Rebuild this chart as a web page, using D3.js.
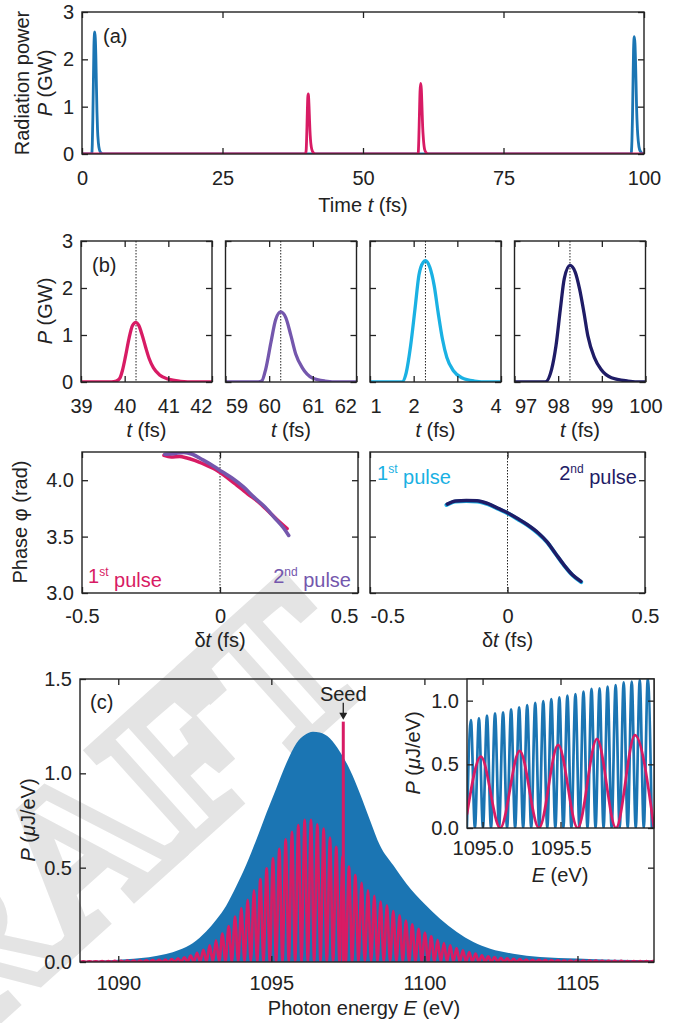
<!DOCTYPE html>
<html><head><meta charset="utf-8">
<script src="https://cdn.jsdelivr.net/npm/d3@7"></script>
<style>
body{margin:0;background:#fff;}
svg text{font-family:"Liberation Sans",Arial,Helvetica,sans-serif;fill:#222;}
</style></head><body>
<svg id="c" width="678" height="1023"></svg>
<script>
// ---------------- DATA ----------------
// Temporal pulses (t in fs, P in GW)
const pinkT   = [39.70,39.81,39.89,39.95,40.02,40.10,40.18,40.26,40.32,40.40,40.48,40.56,40.66,40.80,41.00,41.28,41.60];
const pinkP   = [0,0.02,0.08,0.25,0.55,0.93,1.20,1.27,1.21,1.00,0.74,0.50,0.30,0.15,0.06,0.015,0];
const purpleT = [59.75,59.83,59.92,60.04,60.15,60.265,60.38,60.50,60.61,60.76,60.98,61.28,61.60];
const purpleP = [0,0.02,0.27,0.84,1.33,1.49,1.37,0.98,0.59,0.30,0.09,0.02,0];
const cyanT   = [1.73,1.83,1.93,2.03,2.12,2.22,2.27,2.37,2.47,2.56,2.66,2.76,2.91,3.10,3.39,3.70];
const cyanP   = [0,0.20,0.77,1.55,2.27,2.55,2.58,2.44,2.05,1.48,0.91,0.52,0.24,0.09,0.02,0];
const navyT   = [97.70,97.85,97.95,98.05,98.14,98.27,98.39,98.49,98.59,98.68,98.83,98.98,99.22,99.60,99.90];
const navyP   = [0,0.27,0.77,1.55,2.20,2.48,2.34,1.98,1.48,0.98,0.52,0.27,0.09,0.02,0];
const peakT   = [40.26,60.265,2.27,98.27];
const subDomains = [[39,42],[59,62],[1,4],[97,100]];
const subTicks   = [[39,40,41,42],[59,60,61,62],[1,2,3,4],[97,98,99,100]];
const timeTicksA = [0,25,50,75,100];
const powerTicks = [0,1,2,3];

// Phase (dt in fs, phi in rad)
const phPinkT   = [-0.203,-0.177,-0.146,-0.123,-0.092,-0.054,-0.015,0.015,0.054,0.077,0.100,0.138,0.177,0.215,0.243];
const phPinkV   = [4.22,4.206,4.21,4.20,4.176,4.138,4.094,4.044,3.97,3.926,3.88,3.81,3.72,3.63,3.57];
const phPurpleT = [-0.200,-0.169,-0.131,-0.100,-0.062,-0.023,0.008,0.046,0.085,0.123,0.162,0.200,0.231,0.249];
const phPurpleV = [4.23,4.235,4.247,4.23,4.18,4.124,4.074,4.015,3.94,3.85,3.765,3.66,3.574,3.51];
const phCyanT   = [-0.222,-0.190,-0.150,-0.110,-0.072,-0.033,0.001,0.036,0.075,0.114,0.144,0.175,0.206,0.237,0.268];
const phCyanV   = [3.78,3.81,3.815,3.812,3.788,3.745,3.706,3.656,3.597,3.522,3.45,3.347,3.244,3.156,3.097];
const phNavyT   = [-0.219,-0.188,-0.150,-0.111,-0.073,-0.034,0.000,0.035,0.074,0.113,0.143,0.174,0.205,0.236,0.267];
const phNavyV   = [3.788,3.815,3.82,3.818,3.794,3.75,3.712,3.662,3.603,3.53,3.456,3.353,3.25,3.162,3.103];
const phaseTicksX = [-0.5,0,0.5];
const phaseTicksY = [3.0,3.5,4.0];

// Spectrum (E in eV, P in uJ/eV)
const blueEnvE = [1088.75,1089.5,1090,1090.5,1091,1091.56,1092,1092.43,1092.87,1093.2,1093.53,1093.85,1094.18,1094.51,1094.84,1095.16,1095.49,1095.82,1096.09,1096.36,1096.58,1096.91,1097.24,1097.57,1097.89,1098.22,1098.55,1098.99,1099.42,1100,1100.51,1101.06,1101.6,1102.15,1102.9,1103.78,1104.98,1106.18,1107.5];
const blueEnvP = [0.005,0.008,0.012,0.017,0.025,0.042,0.065,0.10,0.162,0.224,0.30,0.40,0.515,0.648,0.79,0.92,1.053,1.16,1.203,1.221,1.216,1.186,1.115,1.018,0.895,0.753,0.617,0.511,0.414,0.309,0.229,0.159,0.106,0.0705,0.044,0.026,0.018,0.012,0.009];
// pink fringe peaks: first peak energy, fringe spacing, peak heights
const pinkFringeE0 = 1088.85;
const pinkFringeDE = 0.2068;
const pinkFringeP = [0.004,0.004,0.004,0.005,0.005,0.006,0.006,0.007,0.007,0.008,0.009,0.010,0.011,0.013,0.016,0.020,
  0.025,0.034,0.048,0.065,0.088,0.115,0.15,0.19,0.24,0.285,0.33,0.38,0.44,0.497,0.55,0.60,0.65,0.69,0.725,
  0.753,0.753,0.73,0.707,0.66,0.61,0.56,
  0.506,0.46,0.42,0.38,0.35,0.32,0.30,0.27,0.247,0.22,0.20,0.176,0.155,
  0.136,0.118,0.10,0.088,0.074,0.062,0.053,0.044,0.035,0.030,0.026,0.022,0.019,0.017,0.015,0.013,0.012,0.011,0.010,0.009,
  0.009,0.008,0.008,0.008,0.007,0.007,0.007,0.006,0.006,0.006,0.006,0.005,0.005,0.005,0.005,0.005];
const seedE = 1097.35, seedP = 1.274;
const specTicksX = [1090,1095,1100,1105];
const specTicksY = [0,0.5,1.0,1.5];
// inset
const insetBlueE0 = 1094.925, insetBlueDE = 0.0516;
const insetBlueP = [0.848,0.861,0.882,0.90,0.908,0.932,0.948,0.966,0.982,0.997,1.013,1.026,1.039,1.052,1.071,1.092,1.097,1.110,1.123,1.144,1.15,1.163,1.176];
const insetPinkE = [1094.9,1094.989,1095.113,1095.238,1095.362,1095.485,1095.61,1095.734,1095.856,1095.978,1096.1];
const insetPinkP = [0.11,0.56,0,0.606,0,0.653,0,0.70,0,0.73,0];
const insetTicksX = [1095.0,1095.5];
const insetTicksY = [0,0.5,1.0];

// ---------------- COLORS ----------------
const C = {blue:"#1b75b3", pink:"#d81b64", purple:"#7457ad", cyan:"#1ab1e3", navy:"#1f1c66", ink:"#222"};
const FS = 20;

const svg = d3.select("#c");

// watermark
svg.append("text").text("DRAFT")
  .attr("transform","translate(-150,1150) rotate(-42)")
  .style("font-family","'Liberation Serif',serif").style("font-weight","bold").style("font-size","205px")
  .style("fill","none").attr("stroke","#e4e4e4").attr("stroke-width",14).attr("stroke-linejoin","miter");

let clipN = 0;
function panel(o){
  const g = svg.append("g");
  const x = d3.scaleLinear().domain(o.xd).range([o.x0, o.x0 + o.w]);
  const y = d3.scaleLinear().domain(o.yd).range([o.y0 + o.h, o.y0]);
  const id = "clip" + (clipN++);
  svg.append("defs").append("clipPath").attr("id", id).append("rect")
    .attr("x", o.x0).attr("y", o.y0).attr("width", o.w).attr("height", o.h);
  if (o.bg) g.append("rect").attr("x", o.x0).attr("y", o.y0).attr("width", o.w).attr("height", o.h).attr("fill", "#fff");
  const plot = g.append("g").attr("clip-path", `url(#${id})`);
  const ax = g.append("g");
  const ts = 6;
  const bx = ax.append("g").attr("transform", `translate(0,${o.y0 + o.h})`)
    .call(d3.axisBottom(x).tickValues(o.xt).tickFormat(o.xfmt || (d => d)).tickSizeInner(-ts).tickSizeOuter(0).tickPadding(o.xpad || 16));
  ax.append("g").attr("transform", `translate(0,${o.y0})`)
    .call(d3.axisTop(x).tickValues(o.xt).tickFormat("").tickSizeInner(-ts).tickSizeOuter(0));
  const ly = ax.append("g").attr("transform", `translate(${o.x0},0)`)
    .call(d3.axisLeft(y).tickValues(o.yt).tickFormat(o.yfmt || (d => d)).tickSizeInner(-ts).tickSizeOuter(0).tickPadding(8));
  ax.append("g").attr("transform", `translate(${o.x0 + o.w},0)`)
    .call(d3.axisRight(y).tickValues(o.yt).tickFormat("").tickSizeInner(-ts).tickSizeOuter(0));
  if (o.noYLabels) ly.selectAll("text").remove();
  ax.selectAll(".domain").remove();
  ax.selectAll(".tick line").attr("stroke", C.ink).attr("stroke-width", 1.3);
  ax.selectAll("text").style("font-size", FS + "px").attr("fill", C.ink);
  if (o.xAnchor) bx.selectAll(".tick text").attr("text-anchor", (d, i) => o.xAnchor(d, i));
  ax.append("rect").attr("x", o.x0).attr("y", o.y0).attr("width", o.w).attr("height", o.h)
    .attr("fill", "none").attr("stroke", C.ink).attr("stroke-width", 1.4);
  return {x, y, plot, g};
}
function line(p, pts, color, w, curve){
  p.plot.append("path").datum(pts)
    .attr("d", d3.line().x(d => p.x(d[0])).y(d => p.y(d[1])).curve(curve || d3.curveMonotoneX))
    .attr("fill", "none").attr("stroke", color).attr("stroke-width", w)
    .attr("stroke-linejoin", "round").attr("stroke-linecap", "round");
}
function zip(a, b){ return a.map((v, i) => [v, b[i]]); }
function label(txt, x, y, opts = {}){
  const t = svg.append("text").attr("x", x).attr("y", y).style("font-size", (opts.fs || FS) + "px")
    .attr("text-anchor", opts.anchor || "middle").attr("dy", "0.35em");
  if (opts.rot) t.attr("transform", `rotate(-90,${x},${y})`);
  if (opts.fill) t.style("fill", opts.fill);
  (Array.isArray(txt) ? txt : [[txt]]).forEach(s => {
    const sp = t.append("tspan").text(s[0]);
    if (s[1] === "i") sp.style("font-style", "italic");
    if (s[1] === "sup") sp.style("font-size", "12px").attr("dy", "-0.55em");
    if (s[1] === "after") sp.attr("dy", "0.55em");
  });
  return t;
}

// ---------------- PANEL (a) ----------------
const pa = panel({x0:82, y0:12, w:562, h:142, xd:[0,100], yd:[0,3], xt:timeTicksA, yt:powerTicks, xpad:17});
const blueA = [[0,0]].concat(zip(cyanT, cyanP), zip(navyT, navyP), [[100,0]]);
const pinkA = [[0,0]].concat(zip(pinkT, pinkP), zip(purpleT, purpleP), [[100,0]]);
line(pa, blueA, C.blue, 2.8);
line(pa, pinkA, C.pink, 2.8);
label("(a)", 103, 36, {anchor:"start"});
label("Radiation power", 22, 83, {rot:true});
label([["P","i"],[" (GW)"]], 45, 83, {rot:true});
label([["Time "],["t","i"],[" (fs)"]], 363, 205);

// ---------------- PANEL (b) ----------------
const subLeft = [81, 225.5, 370, 514.5];
const subData = [[pinkT,pinkP,C.pink],[purpleT,purpleP,C.purple],[cyanT,cyanP,C.cyan],[navyT,navyP,C.navy]];
subLeft.forEach((x0, k) => {
  const p = panel({x0, y0:241, w:131, h:141, xd:subDomains[k], yd:[0,3], xt:subTicks[k], yt:powerTicks,
    noYLabels: k > 0, xpad:17,
    xAnchor: (d, i) => {
      if (i === 0 && k > 0) return "start";
      if (i === subTicks[k].length - 1 && k < 3) return "end";
      return "middle";
    }});
  p.plot.append("line").attr("x1", p.x(peakT[k])).attr("x2", p.x(peakT[k]))
    .attr("y1", p.y(3)).attr("y2", p.y(0)).attr("stroke", C.ink).attr("stroke-width", 1)
    .attr("stroke-dasharray", "1.5,1.5");
  const d = subData[k];
  const pts = [[subDomains[k][0], 0]].concat(zip(d[0], d[1]), [[subDomains[k][1], 0]]);
  line(p, pts, d[2], 3.3);
  label([["t","i"],[" (fs)"]], x0 + 65.5, 430);
});
label("(b)", 92, 265, {anchor:"start"});
label([["P","i"],[" (GW)"]], 45, 311, {rot:true});

// ---------------- PHASE PANELS ----------------
const phFmt = d => d === 0 ? "0" : String(d);
const phL = panel({x0:82, y0:452, w:276, h:141, xd:[-0.5,0.5], yd:[3.0,4.25], xt:phaseTicksX, yt:phaseTicksY,
  xfmt: phFmt, yfmt: d3.format(".1f"), xpad:16, xAnchor:(d,i)=> i===2 ? "end" : "middle"});
const phR = panel({x0:370, y0:452, w:275, h:141, xd:[-0.5,0.5], yd:[3.0,4.25], xt:phaseTicksX, yt:phaseTicksY,
  xfmt: phFmt, noYLabels:true, xpad:16, xAnchor:(d,i)=> i===0 ? "start" : "middle"});
[phL, phR].forEach(p => {
  p.plot.append("line").attr("x1", p.x(0)).attr("x2", p.x(0)).attr("y1", p.y(4.25)).attr("y2", p.y(3.0))
    .attr("stroke", C.ink).attr("stroke-width", 1).attr("stroke-dasharray", "1.5,1.5");
});
line(phL, zip(phPinkT, phPinkV), C.pink, 3.6);
line(phL, zip(phPurpleT, phPurpleV), C.purple, 3.6);
line(phR, zip(phCyanT, phCyanV), C.cyan, 4.0);
line(phR, zip(phNavyT, phNavyV), C.navy, 3.5);
label("Phase \u03C6 (rad)", 20, 522, {rot:true});
label([["\u03B4"],["t","i"],[" (fs)"]], 220, 640);
label([["\u03B4"],["t","i"],[" (fs)"]], 507.5, 640);
label([["1"],["st","sup"],[" pulse","after"]], 88, 576, {anchor:"start", fill:C.pink});
label([["2"],["nd","sup"],[" pulse","after"]], 351, 576, {anchor:"end", fill:C.purple});
label([["1"],["st","sup"],[" pulse","after"]], 377, 473, {anchor:"start", fill:C.cyan});
label([["2"],["nd","sup"],[" pulse","after"]], 637, 473, {anchor:"end", fill:C.navy});

// ---------------- PANEL (c) ----------------
const pc = panel({x0:80, y0:679, w:574, h:283, xd:[1088.75,1107.5], yd:[0,1.5], xt:specTicksX, yt:specTicksY,
  yfmt: d3.format(".1f"), xpad:14});
pc.plot.append("path").datum(zip(blueEnvE, blueEnvP))
  .attr("d", d3.area().x(d => pc.x(d[0])).y0(pc.y(0)).y1(d => pc.y(d[1])).curve(d3.curveMonotoneX))
  .attr("fill", C.blue);
const pinkSpec = [];
pinkFringeP.forEach((h, n) => {
  const e = pinkFringeE0 + n * pinkFringeDE;
  pinkSpec.push([e - pinkFringeDE / 2, 0]);
  pinkSpec.push([e, h]);
});
pinkSpec.push([pinkFringeE0 + (pinkFringeP.length - 0.5) * pinkFringeDE, 0]);
line(pc, pinkSpec, C.pink, 2.7);
pc.plot.append("line").attr("x1", pc.x(seedE)).attr("x2", pc.x(seedE))
  .attr("y1", pc.y(0)).attr("y2", pc.y(seedP)).attr("stroke", C.pink).attr("stroke-width", 3);
label("(c)", 90, 702, {anchor:"start"});
label("Seed", pc.x(seedE), 694);
{
  const sx = pc.x(seedE), top = pc.y(seedP);
  svg.append("line").attr("x1", sx).attr("x2", sx).attr("y1", top - 19).attr("y2", top - 8)
    .attr("stroke", C.ink).attr("stroke-width", 1.3);
  svg.append("path").attr("d", `M${sx-4},${top-9}L${sx+4},${top-9}L${sx},${top-2}Z`).attr("fill", C.ink);
}
label([["P","i"],[" ("],["\u03BC","i"],["J/eV)"]], 28, 820, {rot:true});
label([["Photon energy "],["E","i"],[" (eV)"]], 364, 1008);

// ---------------- INSET ----------------
const pi = panel({x0:467, y0:679, w:187, h:149, xd:[1094.9,1096.1], yd:[0,1.17], xt:insetTicksX, yt:insetTicksY,
  xfmt: d3.format(".1f"), yfmt: d3.format(".1f"), bg:true, xpad:13});
const insetBlue = [];
insetBlueP.forEach((h, n) => {
  const e = insetBlueE0 + n * insetBlueDE;
  insetBlue.push([e - insetBlueDE / 2, 0]);
  insetBlue.push([e, h]);
});
insetBlue.push([insetBlueE0 + (insetBlueP.length - 0.5) * insetBlueDE, 0]);
line(pi, insetBlue, C.blue, 2.7);
line(pi, zip(insetPinkE, insetPinkP), C.pink, 2.7);
label([["P","i"],[" ("],["\u03BC","i"],["J/eV)"]], 413, 753, {rot:true});
label([["E","i"],[" (eV)"]], 560, 875);
</script>
</body></html>
